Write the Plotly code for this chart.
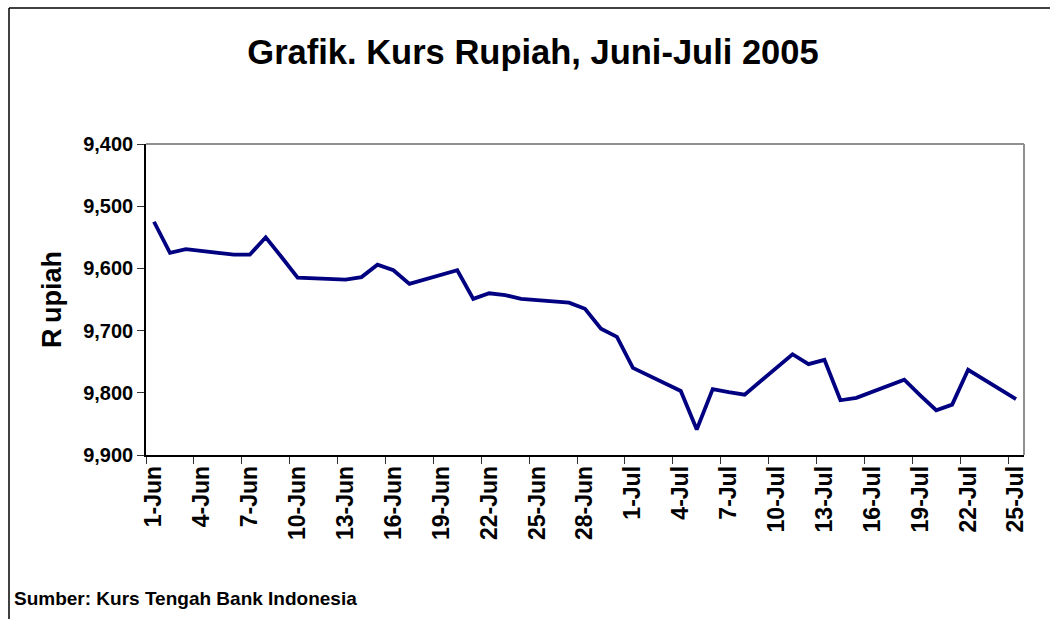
import plotly.graph_objects as go
from datetime import datetime, timedelta

dates = ["2005-06-01", "2005-06-02", "2005-06-03", "2005-06-06", "2005-06-07", "2005-06-08",
         "2005-06-09", "2005-06-10", "2005-06-13", "2005-06-14", "2005-06-15", "2005-06-16",
         "2005-06-17", "2005-06-20", "2005-06-21", "2005-06-22", "2005-06-23", "2005-06-24",
         "2005-06-27", "2005-06-28", "2005-06-29", "2005-06-30", "2005-07-01", "2005-07-04",
         "2005-07-05", "2005-07-06", "2005-07-07", "2005-07-08", "2005-07-11", "2005-07-12",
         "2005-07-13", "2005-07-14", "2005-07-15", "2005-07-18", "2005-07-19", "2005-07-20",
         "2005-07-21", "2005-07-22", "2005-07-25"]
kurs = [9525, 9575, 9569, 9578, 9578, 9550,
        9582, 9615, 9618, 9614, 9594, 9603,
        9625, 9603, 9649, 9640, 9643, 9649,
        9655, 9665, 9697, 9710, 9760, 9797,
        9859, 9794, 9799, 9803, 9738, 9754,
        9747, 9812, 9808, 9779, 9804, 9828,
        9819, 9763, 9810]

tick_dates = ["2005-06-01", "2005-06-04", "2005-06-07", "2005-06-10", "2005-06-13", "2005-06-16",
              "2005-06-19", "2005-06-22", "2005-06-25", "2005-06-28", "2005-07-01", "2005-07-04",
              "2005-07-07", "2005-07-10", "2005-07-13", "2005-07-16", "2005-07-19", "2005-07-22",
              "2005-07-25"]
tick_labels = ["1-Jun", "4-Jun", "7-Jun", "10-Jun", "13-Jun", "16-Jun", "19-Jun", "22-Jun",
               "25-Jun", "28-Jun", "1-Jul", "4-Jul", "7-Jul", "10-Jul", "13-Jul", "16-Jul",
               "19-Jul", "22-Jul", "25-Jul"]
y_ticks = [9400, 9500, 9600, 9700, 9800, 9900]
y_labels = ["9,400", "9,500", "9,600", "9,700", "9,800", "9,900"]

# tick marks sit on the day-slot boundaries (half a day before each labelled date)
minor_ticks = [(datetime.fromisoformat(d) - timedelta(hours=12)).strftime("%Y-%m-%d %H:%M")
               for d in tick_dates]

FONT = "Liberation Sans, Arial, sans-serif"

fig = go.Figure()
fig.add_trace(go.Scatter(
    x=dates, y=kurs, mode="lines",
    line=dict(color="#000080", width=3.8),
    hoverinfo="x+y", showlegend=False,
))

L, R, T, B = 146, 1024, 144, 455
W, H = 1050, 619
pw, ph = R - L, B - T


def px(p):
    return (p - L) / pw


def py(p):
    return (B - p) / ph


fig.update_layout(
    width=W, height=H,
    margin=dict(l=L, r=W - R, t=T, b=H - B, pad=0),
    paper_bgcolor="white", plot_bgcolor="white",
    font=dict(family=FONT, color="black"),
    title=dict(text="<b>Grafik. Kurs Rupiah, Juni-Juli 2005</b>",
               x=533 / W, xanchor="center", y=1 - 52 / H, yanchor="middle",
               font=dict(size=34.5, family=FONT, color="black")),
    xaxis=dict(
        type="date",
        range=["2005-05-31 12:00", "2005-07-25 12:00"],
        tickmode="array", tickvals=tick_dates, ticktext=tick_labels,
        tickangle=-90, ticks="",
        tickfont=dict(size=23, family=FONT, color="black", weight="bold"),
        showgrid=False, zeroline=False,
        showline=True, linecolor="black", linewidth=1.5,
        minor=dict(tickmode="array", tickvals=minor_ticks, ticks="outside",
                   ticklen=7, tickcolor="#333333", tickwidth=1, showgrid=False),
        mirror=False, fixedrange=True,
    ),
    yaxis=dict(
        range=[9900, 9400],
        tickmode="array", tickvals=y_ticks, ticktext=y_labels,
        ticks="outside", ticklen=7, tickcolor="#333333", tickwidth=1,
        tickfont=dict(size=20, family=FONT, color="black", weight="bold"),
        showgrid=False, zeroline=False,
        showline=True, linecolor="black", linewidth=1.5,
        title=dict(text="<b>R\u2009upiah</b>", font=dict(size=27, family=FONT, color="black"),
                   standoff=14),
        fixedrange=True,
    ),
    shapes=[
        # plot area top and right borders (gray)
        dict(type="line", xref="paper", yref="paper", x0=0, x1=1, y0=1, y1=1,
             line=dict(color="#909090", width=2)),
        dict(type="line", xref="paper", yref="paper", x0=1, x1=1, y0=0, y1=1,
             line=dict(color="#909090", width=2)),
        # outer chart border (top & left visible)
        dict(type="line", xref="paper", yref="paper", x0=px(9), x1=px(1060), y0=py(8), y1=py(8),
             line=dict(color="black", width=1.5)),
        dict(type="line", xref="paper", yref="paper", x0=px(9), x1=px(9), y0=py(8), y1=py(630),
             line=dict(color="black", width=1.5)),
    ],
    annotations=[
        dict(text="<b>Sumber: Kurs Tengah Bank Indonesia</b>", xref="paper", yref="paper",
             x=px(12), y=py(598), xanchor="left", yanchor="middle", showarrow=False,
             font=dict(size=19, family=FONT, color="black")),
    ],
)

fig.write_html("out.html",
               config={"displayModeBar": False},
               post_script="document.body.style.margin='0';document.body.style.overflow='hidden';")
